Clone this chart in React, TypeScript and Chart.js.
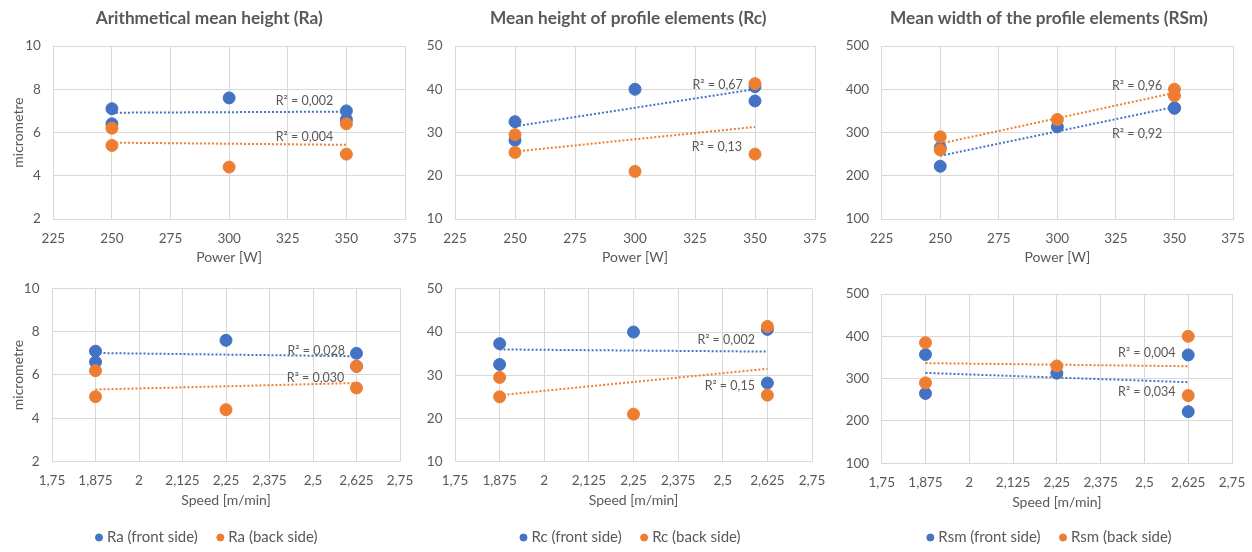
import React, { useEffect, useRef } from "react";
import { Chart, registerables } from "chart.js";

Chart.register(...registerables);

// ---------- data (runs of the experiment) ----------
const powerW = [250, 350, 300, 250, 350];
const speedMmin = [1.875, 1.875, 2.25, 2.625, 2.625];
const raFront = [7.1, 6.6, 7.6, 6.4, 7.0];
const raBack = [6.2, 5.0, 4.4, 5.4, 6.4];
const rcFront = [32.5, 37.3, 40.0, 28.2, 40.6];
const rcBack = [29.5, 25.0, 21.0, 25.4, 41.3];
const rsmFront = [265, 357, 313, 222, 356];
const rsmBack = [290, 385, 330, 260, 400];

const powerTicks = [225, 375, 25];
const speedTicks = [1.75, 2.75, 0.125];
const raTicks = [2, 10, 2];
const rcTicks = [10, 50, 10];
const rsmTicks = [100, 500, 100];

const r2RaPower = ["R² = 0,002", "R² = 0,004"];
const r2RcPower = ["R² = 0,67", "R² = 0,13"];
const r2RsmPower = ["R² = 0,92", "R² = 0,96"];
const r2RaSpeed = ["R² = 0,028", "R² = 0,030"];
const r2RcSpeed = ["R² = 0,002", "R² = 0,15"];
const r2RsmSpeed = ["R² = 0,034", "R² = 0,004"];

// ---------- styles ----------
const BLUE = "#4472C4";
const ORANGE = "#ED7D31";
const GRID = "#D9D9D9";
const TEXT = "#595959";
const FONT = "Lato, 'Open Sans', sans-serif";

Chart.defaults.font.family = FONT;
Chart.defaults.color = TEXT;

function pts(xs: number[], ys: number[]) {
  return xs.map((x, i) => ({ x, y: ys[i] }));
}

function trend(xs: number[], ys: number[]) {
  const n = xs.length;
  const mx = xs.reduce((a, b) => a + b, 0) / n;
  const my = ys.reduce((a, b) => a + b, 0) / n;
  let sxy = 0;
  let sxx = 0;
  for (let i = 0; i < n; i++) {
    sxy += (xs[i] - mx) * (ys[i] - my);
    sxx += (xs[i] - mx) * (xs[i] - mx);
  }
  const b = sxy / sxx;
  const a = my - b * mx;
  const lo = Math.min(...xs);
  const hi = Math.max(...xs);
  return [
    { x: lo, y: a + b * lo },
    { x: hi, y: a + b * hi },
  ];
}

const R2_FS = 12.5;

const r2Plugin = {
  id: "r2labels",
  afterDatasetsDraw(chart: any, _args: any, opts: any) {
    const labels = (opts && opts.labels) || [];
    const { ctx } = chart;
    const xs = chart.scales.x;
    const ys = chart.scales.y;
    ctx.save();
    ctx.font = `${R2_FS}px ${FONT}`;
    ctx.fillStyle = TEXT;
    ctx.textAlign = "right";
    ctx.textBaseline = "middle";
    labels.forEach((l: any) => {
      ctx.fillText(l.text, xs.getPixelForValue(l.x), ys.getPixelForValue(l.y));
    });
    ctx.restore();
  },
};

type PanelCfg = {
  left: number;
  top: number;
  width: number;
  height: number;
  title?: string;
  xTitle: string;
  yTitle?: string;
  xs: number[];
  front: number[];
  back: number[];
  frontLabel: string;
  backLabel: string;
  xT: number[];
  yT: number[];
  r2: string[];
  r2Pos: number[][];
  pl: number;
  pr: number;
  pt: number;
  yW: number;
  areaBottom: number;
  xTitleY: number;
  yTitleX?: number;
  legend: boolean;
  comma: boolean;
};

const TICK_FS = 13.5;
const AXT_FS = 14;
const TITLE_SIZE = 17.25;
const TITLE_PT = 18.3 - TITLE_SIZE * 0.6;
const TITLE_PB = 46 - TITLE_PT - TITLE_SIZE * 1.2;
const LEG_FS = 15;
const LEG_PAD = 22;
const LEG_H = LEG_FS + LEG_PAD + 10;

const panels: PanelCfg[] = [
  {
    left: 0, top: 0, width: 420, height: 270,
    title: "Arithmetical mean height (Ra)", xTitle: "Power [W]", yTitle: "micrometre",
    xs: powerW, front: raFront, back: raBack,
    frontLabel: "Ra (front side)", backLabel: "Ra (back side)",
    xT: powerTicks, yT: raTicks, r2: r2RaPower,
    r2Pos: [[344.4, 7.47], [344.4, 5.78]],
    pl: 13.4, pr: 15, pt: 0, yW: 39.9, areaBottom: 219, xTitleY: 257, yTitleX: 18.3,
    legend: false, comma: false,
  },
  {
    left: 420, top: 0, width: 410, height: 270,
    title: "Mean height of profile elements (Rc)", xTitle: "Power [W]",
    xs: powerW, front: rcFront, back: rcBack,
    frontLabel: "Rc (front side)", backLabel: "Rc (back side)",
    xT: powerTicks, yT: rcTicks, r2: r2RcPower,
    r2Pos: [[344.9, 40.98], [344.6, 26.58]],
    pl: 21.6, pr: 15, pt: 0, yW: 13.4, areaBottom: 219, xTitleY: 257,
    legend: false, comma: false,
  },
  {
    left: 830, top: 0, width: 422, height: 270,
    title: "Mean width of the profile elements (RSm)", xTitle: "Power [W]",
    xs: powerW, front: rsmFront, back: rsmBack,
    frontLabel: "Rsm (front side)", backLabel: "Rsm (back side)",
    xT: powerTicks, yT: rsmTicks, r2: r2RsmPower,
    r2Pos: [[344.8, 295.8], [344.8, 407.5]],
    pl: 34.6, pr: 19, pt: 0, yW: 17.1, areaBottom: 219, xTitleY: 257,
    legend: false, comma: false,
  },
  {
    left: 0, top: 270, width: 420, height: 285,
    xTitle: "Speed [m/min]", yTitle: "micrometre",
    xs: speedMmin, front: raFront, back: raBack,
    frontLabel: "Ra (front side)", backLabel: "Ra (back side)",
    xT: speedTicks, yT: raTicks, r2: r2RaSpeed,
    r2Pos: [[2.592, 7.12], [2.59, 5.85]],
    pl: 16, pr: 20, pt: 18.3, yW: 36, areaBottom: 191.7, xTitleY: 230, yTitleX: 18.3,
    legend: true, comma: true,
  },
  {
    left: 420, top: 270, width: 410, height: 285,
    xTitle: "Speed [m/min]",
    xs: speedMmin, front: rcFront, back: rcBack,
    frontLabel: "Rc (front side)", backLabel: "Rc (back side)",
    xT: speedTicks, yT: rcTicks, r2: r2RcSpeed,
    r2Pos: [[2.59, 38.05], [2.59, 27.57]],
    pl: 31.6, pr: 18, pt: 18.8, yW: 3.4, areaBottom: 191.7, xTitleY: 230,
    legend: true, comma: true,
  },
  {
    left: 830, top: 270, width: 422, height: 285,
    xTitle: "Speed [m/min]",
    xs: speedMmin, front: rsmFront, back: rsmBack,
    frontLabel: "Rsm (front side)", backLabel: "Rsm (back side)",
    xT: speedTicks, yT: rsmTicks, r2: r2RsmSpeed,
    r2Pos: [[2.589, 268.8], [2.589, 361]],
    pl: 39.4, pr: 20, pt: 24, yW: 12.3, areaBottom: 193.3, xTitleY: 232,
    legend: true, comma: true,
  },
];

function Panel({ cfg }: { cfg: PanelCfg }) {
  const ref = useRef<HTMLCanvasElement | null>(null);

  useEffect(() => {
    if (!ref.current) return;
    const c = cfg;
    const fmt = (v: any) => (c.comma ? String(v).replace(".", ",") : String(v));
    const scaleBottom = c.height - (c.legend ? LEG_H : 0);
    const xH = scaleBottom - c.areaBottom;
    const lh = AXT_FS * 1.2;
    const xTitlePad = scaleBottom - lh / 2 - c.xTitleY;
    const tickPad = 238.3 - 219 - (TICK_FS * 1.2) / 2;
    const yTitlePad = c.yTitleX !== undefined ? c.yTitleX - c.pl - lh / 2 : 0;

    const chart = new Chart(ref.current, {
      type: "scatter",
      data: {
        datasets: [
          {
            label: c.frontLabel,
            data: pts(c.xs, c.front),
            backgroundColor: BLUE,
            borderColor: BLUE,
            borderWidth: 1,
            pointRadius: 6,
            pointHoverRadius: 6,
            pointStyle: "circle",
            order: 2,
          } as any,
          {
            label: c.backLabel,
            data: pts(c.xs, c.back),
            backgroundColor: ORANGE,
            borderColor: ORANGE,
            borderWidth: 1,
            pointRadius: 6,
            pointHoverRadius: 6,
            pointStyle: "circle",
            order: 1,
          } as any,
          {
            label: "trend-front",
            type: "line",
            data: trend(c.xs, c.front),
            borderColor: BLUE,
            backgroundColor: BLUE,
            borderWidth: 2,
            borderDash: [2, 2],
            pointRadius: 0,
            showLine: true,
            fill: false,
            order: 4,
          } as any,
          {
            label: "trend-back",
            type: "line",
            data: trend(c.xs, c.back),
            borderColor: ORANGE,
            backgroundColor: ORANGE,
            borderWidth: 2,
            borderDash: [2, 2],
            pointRadius: 0,
            showLine: true,
            fill: false,
            order: 3,
          } as any,
        ],
      },
      options: {
        animation: false,
        responsive: false,
        events: [],
        layout: { padding: { left: c.pl, right: c.pr, top: c.pt, bottom: 0 } },
        plugins: {
          tooltip: { enabled: false },
          title: c.title
            ? {
                display: true,
                text: c.title,
                color: TEXT,
                font: { size: TITLE_SIZE, weight: "bold", family: FONT },
                padding: { top: TITLE_PT, bottom: TITLE_PB },
              }
            : { display: false },
          legend: c.legend
            ? {
                display: true,
                position: "bottom",
                labels: {
                  usePointStyle: true,
                  pointStyle: "circle",
                  boxWidth: 1,
                  boxHeight: 5,
                  padding: LEG_PAD,
                  color: TEXT,
                  font: { size: LEG_FS, family: FONT },
                  filter: (item: any) => !String(item.text).startsWith("trend"),
                  sort: (a: any, b: any) => a.datasetIndex - b.datasetIndex,
                },
              }
            : { display: false },
          r2labels: {
            labels: [
              { text: c.r2[0], x: c.r2Pos[0][0], y: c.r2Pos[0][1] },
              { text: c.r2[1], x: c.r2Pos[1][0], y: c.r2Pos[1][1] },
            ],
          },
        } as any,
        scales: {
          x: {
            type: "linear",
            position: "bottom",
            min: c.xT[0],
            max: c.xT[1],
            ticks: {
              stepSize: c.xT[2],
              autoSkip: false,
              maxRotation: 0,
              color: TEXT,
              padding: tickPad,
              font: { size: TICK_FS, family: FONT },
              callback: (v: any) => fmt(v),
            },
            grid: { color: GRID, drawTicks: false, lineWidth: 1 },
            border: { color: GRID },
            title: {
              display: true,
              text: c.xTitle,
              color: TEXT,
              font: { size: AXT_FS, family: FONT },
              padding: { top: 0, bottom: xTitlePad },
            },
            afterFit: (s: any) => {
              s.height = xH;
              s.paddingLeft = 0;
              s.paddingRight = 0;
              s._computeLabelArea = () => undefined;
            },
          },
          y: {
            type: "linear",
            min: c.yT[0],
            max: c.yT[1],
            ticks: {
              stepSize: c.yT[2],
              color: TEXT,
              padding: 12.5,
              font: { size: TICK_FS, family: FONT },
            },
            grid: { color: GRID, drawTicks: false, lineWidth: 1 },
            border: { color: GRID },
            title: c.yTitle
              ? {
                  display: true,
                  text: c.yTitle,
                  color: TEXT,
                  font: { size: AXT_FS, family: FONT },
                  padding: { top: yTitlePad, bottom: 0 },
                }
              : { display: false },
            afterFit: (s: any) => {
              s.width = c.yW;
              s.paddingTop = 0;
              s.paddingBottom = 0;
              s._computeLabelArea = () => undefined;
            },
          },
        },
      } as any,
      plugins: [r2Plugin as any],
    });
    return () => chart.destroy();
  }, [cfg]);

  return (
    <div
      style={{
        position: "absolute",
        left: cfg.left,
        top: cfg.top,
        width: cfg.width,
        height: cfg.height,
      }}
    >
      <canvas ref={ref} width={cfg.width} height={cfg.height} style={{ display: "block" }} />
    </div>
  );
}

export default function App() {
  return (
    <div
      style={{
        position: "fixed",
        left: 0,
        top: 0,
        width: 1252,
        height: 552,
        overflow: "hidden",
        background: "#ffffff",
      }}
    >
      {panels.map((p, i) => (
        <Panel key={i} cfg={p} />
      ))}
    </div>
  );
}
